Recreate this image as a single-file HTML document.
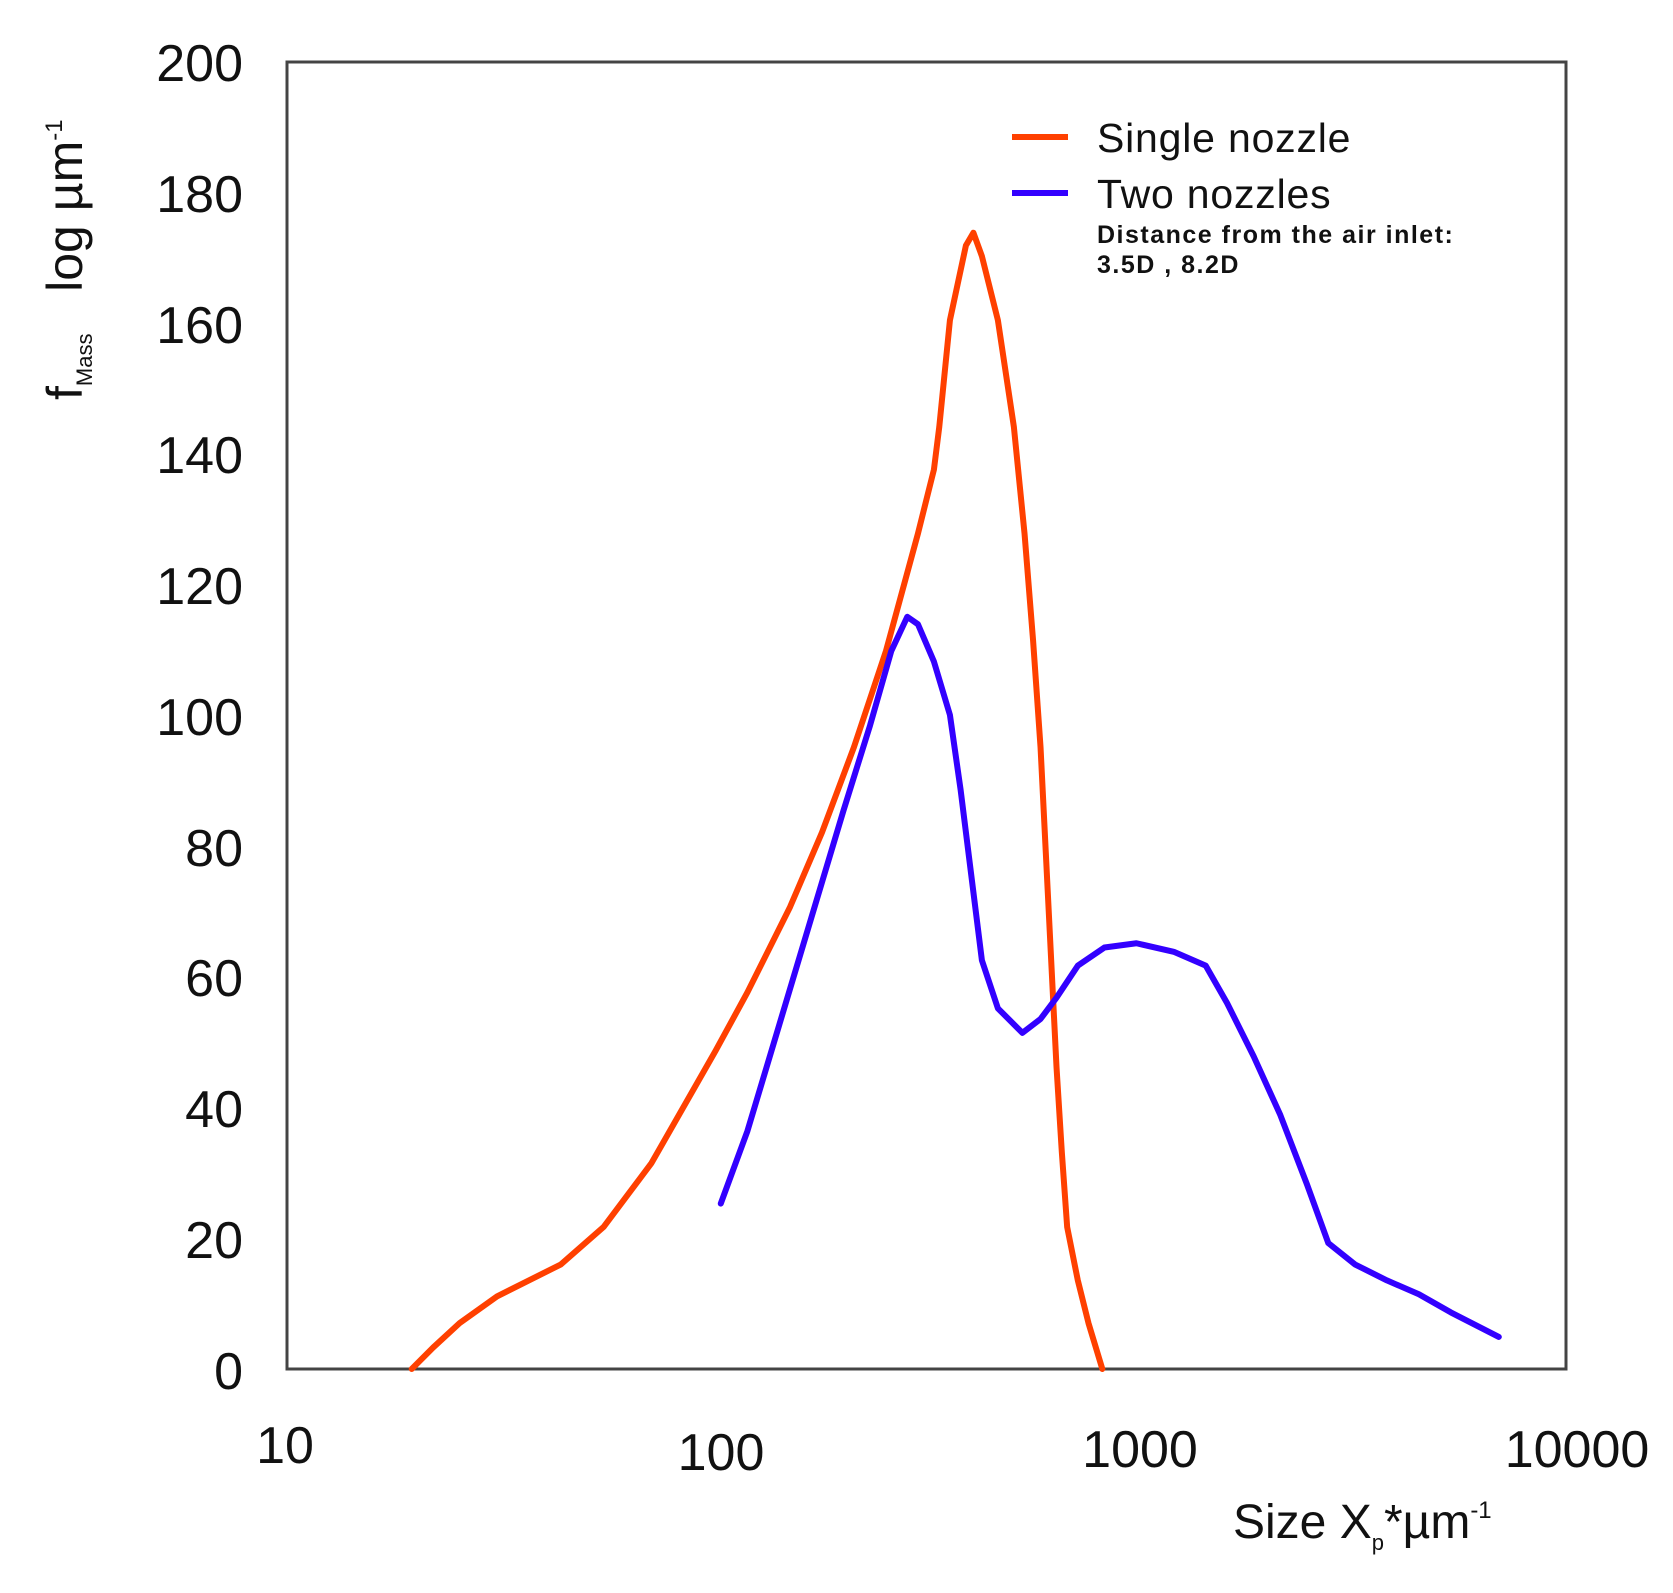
<!DOCTYPE html>
<html><head><meta charset="utf-8"><style>
html,body{margin:0;padding:0;background:#fff;}
svg{display:block;}
text{font-family:"Liberation Sans",sans-serif;fill:#111;}
</style></head><body>
<svg width="1673" height="1593" viewBox="0 0 1673 1593" xmlns="http://www.w3.org/2000/svg">
<rect x="287" y="62" width="1279" height="1307" fill="none" stroke="#444" stroke-width="3"/>
<g font-size="52" text-anchor="end">
<text x="243" y="81">200</text>
<text x="243" y="212">180</text>
<text x="243" y="343">160</text>
<text x="243" y="473">140</text>
<text x="243" y="604">120</text>
<text x="243" y="735">100</text>
<text x="243" y="866">80</text>
<text x="243" y="996">60</text>
<text x="243" y="1127">40</text>
<text x="243" y="1258">20</text>
<text x="243" y="1389">0</text>
</g>
<g font-size="52" text-anchor="middle">
<text x="285" y="1463">10</text>
<text x="721" y="1470">100</text>
<text x="1140" y="1467">1000</text>
<text x="1577" y="1467">10000</text>
</g>
<text x="1233" y="1538" font-size="48">Size X<tspan font-size="22" dy="12">p</tspan><tspan dy="-12">*µm</tspan><tspan font-size="24" dy="-20">-1</tspan></text>
<text transform="translate(82,400) rotate(-90)" font-size="50">f<tspan font-size="22" dy="10">Mass</tspan><tspan dy="-10" xml:space="preserve">   log µm</tspan><tspan font-size="24" dy="-20">-1</tspan></text>
<line x1="1012" y1="137" x2="1068" y2="137" stroke="#ff4000" stroke-width="6"/>
<line x1="1012" y1="193" x2="1068" y2="193" stroke="#3300ff" stroke-width="6"/>
<text x="1097" y="152" font-size="41" letter-spacing="0.8">Single nozzle</text>
<text x="1097" y="208" font-size="41" letter-spacing="0.8">Two nozzles</text>
<text x="1097" y="243" font-size="25" font-weight="bold" letter-spacing="1.5">Distance from the air inlet:</text>
<text x="1097" y="273" font-size="25" font-weight="bold" letter-spacing="1.5">3.5D , 8.2D</text>
<g transform="translate(287,62) scale(1.0658,1.0669) translate(-268,-58)" fill="none" stroke-linejoin="round" stroke-linecap="round">
<polyline stroke="#ff4000" stroke-width="6" vector-effect="non-scaling-stroke" points="385,1283 405,1263 430,1240 465,1215 525,1185 565,1150 610,1090 670,985 700,930 740,850 770,780 800,700 830,610 860,500 875,440 880,400 890,300 905,230 912,218 920,240 935,300 950,400 960,500 968,600 975,700 980,800 985,900 990,1000 995,1080 1000,1150 1010,1200 1020,1240 1033,1283"/>
<polyline stroke="#3300ff" stroke-width="6" vector-effect="non-scaling-stroke" points="675,1128 700,1060 730,960 760,860 790,760 815,680 835,610 850,578 860,585 875,620 890,670 900,740 910,820 920,900 935,945 958,968 975,955 990,935 1010,905 1035,888 1065,884 1100,892 1130,905 1150,940 1175,990 1200,1045 1225,1110 1245,1165 1270,1185 1300,1200 1330,1213 1360,1230 1405,1253"/>
</g>
</svg>
</body></html>
